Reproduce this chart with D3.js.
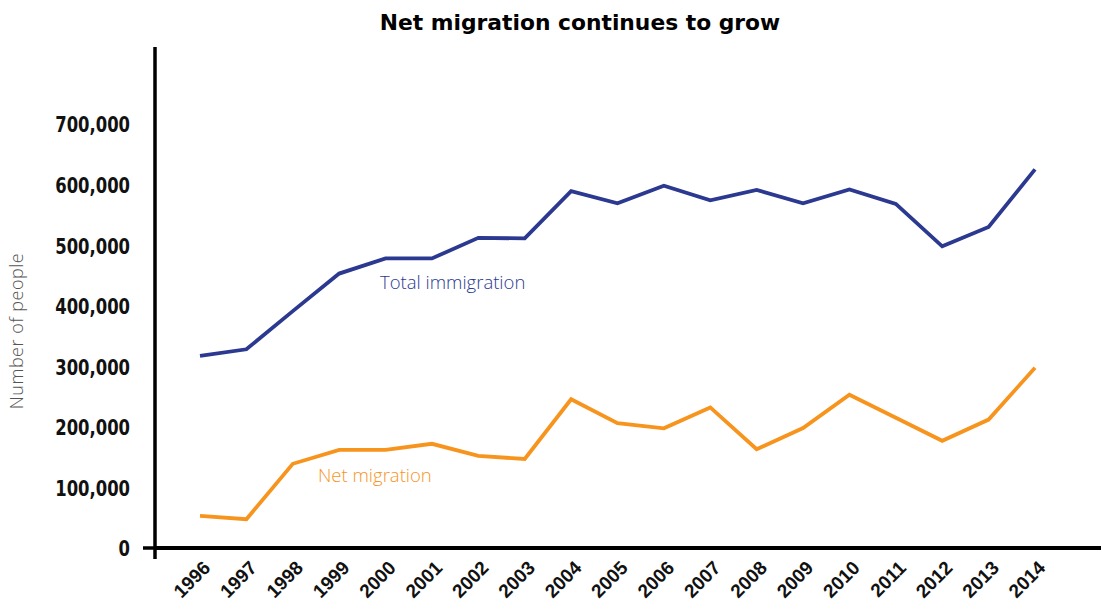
<!DOCTYPE html>
<html>
<head>
<meta charset="utf-8">
<script src="https://cdn.jsdelivr.net/npm/d3@7"></script>
<style>
  html, body { margin: 0; padding: 0; background: #fff; }
  svg { display: block; }
</style>
</head>
<body>
<svg id="chart" width="1103" height="610"></svg>
<script>
// Years shown on the x axis
const years = [1996, 1997, 1998, 1999, 2000, 2001, 2002, 2003, 2004, 2005,
               2006, 2007, 2008, 2009, 2010, 2011, 2012, 2013, 2014];

// Total immigration, people per year
const totalImmigration = [317000, 328000, 391000, 453000, 478000, 478000, 512000, 511000, 589000, 569000,
                          598000, 574000, 591000, 569000, 592000, 568000, 498000, 530000, 625000];

// Net migration, people per year
const netMigration = [53000, 47500, 139000, 162000, 162000, 172000, 152000, 147000, 245500, 206000,
                      197500, 232000, 163000, 198000, 253000, 215000, 177000, 212000, 297500];

// Y axis tick values
const yTicks = [0, 100000, 200000, 300000, 400000, 500000, 600000, 700000];

const svg = d3.select("#chart");

const x = d3.scalePoint().domain(years).range([200, 1035]);
const y = d3.scaleLinear().domain([0, 827000]).range([548, 47]);

const navy = "#2b3990";
const orange = "#f7941d";

// Title
svg.append("text")
  .attr("x", 580).attr("y", 30)
  .attr("text-anchor", "middle")
  .style("font-family", "'DejaVu Sans', 'Liberation Sans', sans-serif")
  .style("font-weight", "bold")
  .style("font-size", "21.8px")
  .style("fill", "#000")
  .text("Net migration continues to grow");

// Y axis title
svg.append("text")
  .attr("transform", "translate(23,331) rotate(-90)")
  .attr("text-anchor", "middle")
  .style("font-family", "'Open Sans', 'Liberation Sans', sans-serif")
  .style("font-weight", "300")
  .style("font-size", "18px")
  .style("letter-spacing", "0.5px")
  .style("fill", "#555")
  .text("Number of people");

// Y axis: tall condensed numerals
const yLabelScale = 0.83;
const yAxis = d3.axisLeft(y)
  .tickValues(yTicks)
  .tickFormat(d3.format(","))
  .tickSize(0)
  .tickPadding(0);

const gy = svg.append("g").attr("transform", "translate(155,0)").call(yAxis);
gy.select(".domain").remove();
gy.selectAll("text")
  .attr("x", -25 / yLabelScale)
  .attr("dy", "0.36em")
  .attr("transform", `scale(${yLabelScale},1)`)
  .style("font-family", "'DejaVu Sans Condensed', 'DejaVu Sans', sans-serif")
  .style("font-weight", "bold")
  .style("font-size", "22px")
  .style("fill", "#111");

// Vertical axis line
svg.append("line")
  .attr("x1", 155).attr("x2", 155)
  .attr("y1", y(827000)).attr("y2", 559)
  .attr("stroke", "#000").attr("stroke-width", 3.5);

// Small tick at zero, left of the axis
svg.append("line")
  .attr("x1", 143).attr("x2", 155)
  .attr("y1", y(0)).attr("y2", y(0))
  .attr("stroke", "#000").attr("stroke-width", 3.5);

// X axis
const xAxis = d3.axisBottom(x).tickSize(0).tickPadding(0);
const gx = svg.append("g").attr("transform", `translate(0,${y(0)})`).call(xAxis);
gx.select(".domain").remove();
gx.selectAll("text")
  .attr("y", 0)
  .attr("dy", 0)
  .attr("text-anchor", "end")
  .attr("transform", "translate(11,21) rotate(-45)")
  .style("font-family", "'Liberation Sans', Arial, sans-serif")
  .style("font-weight", "bold")
  .style("font-size", "19px")
  .style("fill", "#111");

svg.append("line")
  .attr("x1", 155).attr("x2", 1101)
  .attr("y1", y(0)).attr("y2", y(0))
  .attr("stroke", "#000").attr("stroke-width", 4);

// Lines
const line = d3.line()
  .x((d, i) => x(years[i]))
  .y(d => y(d));

svg.append("path")
  .datum(totalImmigration)
  .attr("d", line)
  .attr("fill", "none")
  .attr("stroke", navy)
  .attr("stroke-width", 3.8)
  .attr("stroke-linejoin", "miter");

svg.append("path")
  .datum(netMigration)
  .attr("d", line)
  .attr("fill", "none")
  .attr("stroke", orange)
  .attr("stroke-width", 3.8)
  .attr("stroke-linejoin", "miter");

// Series labels
svg.append("text")
  .attr("x", 380).attr("y", 289)
  .style("font-family", "'Open Sans', 'Liberation Sans', sans-serif")
  .style("font-weight", "300")
  .style("font-size", "18.5px")
  .style("fill", navy)
  .text("Total immigration");

svg.append("text")
  .attr("x", 318).attr("y", 482)
  .style("font-family", "'Open Sans', 'Liberation Sans', sans-serif")
  .style("font-weight", "300")
  .style("font-size", "18.5px")
  .style("fill", orange)
  .text("Net migration");
</script>
</body>
</html>
